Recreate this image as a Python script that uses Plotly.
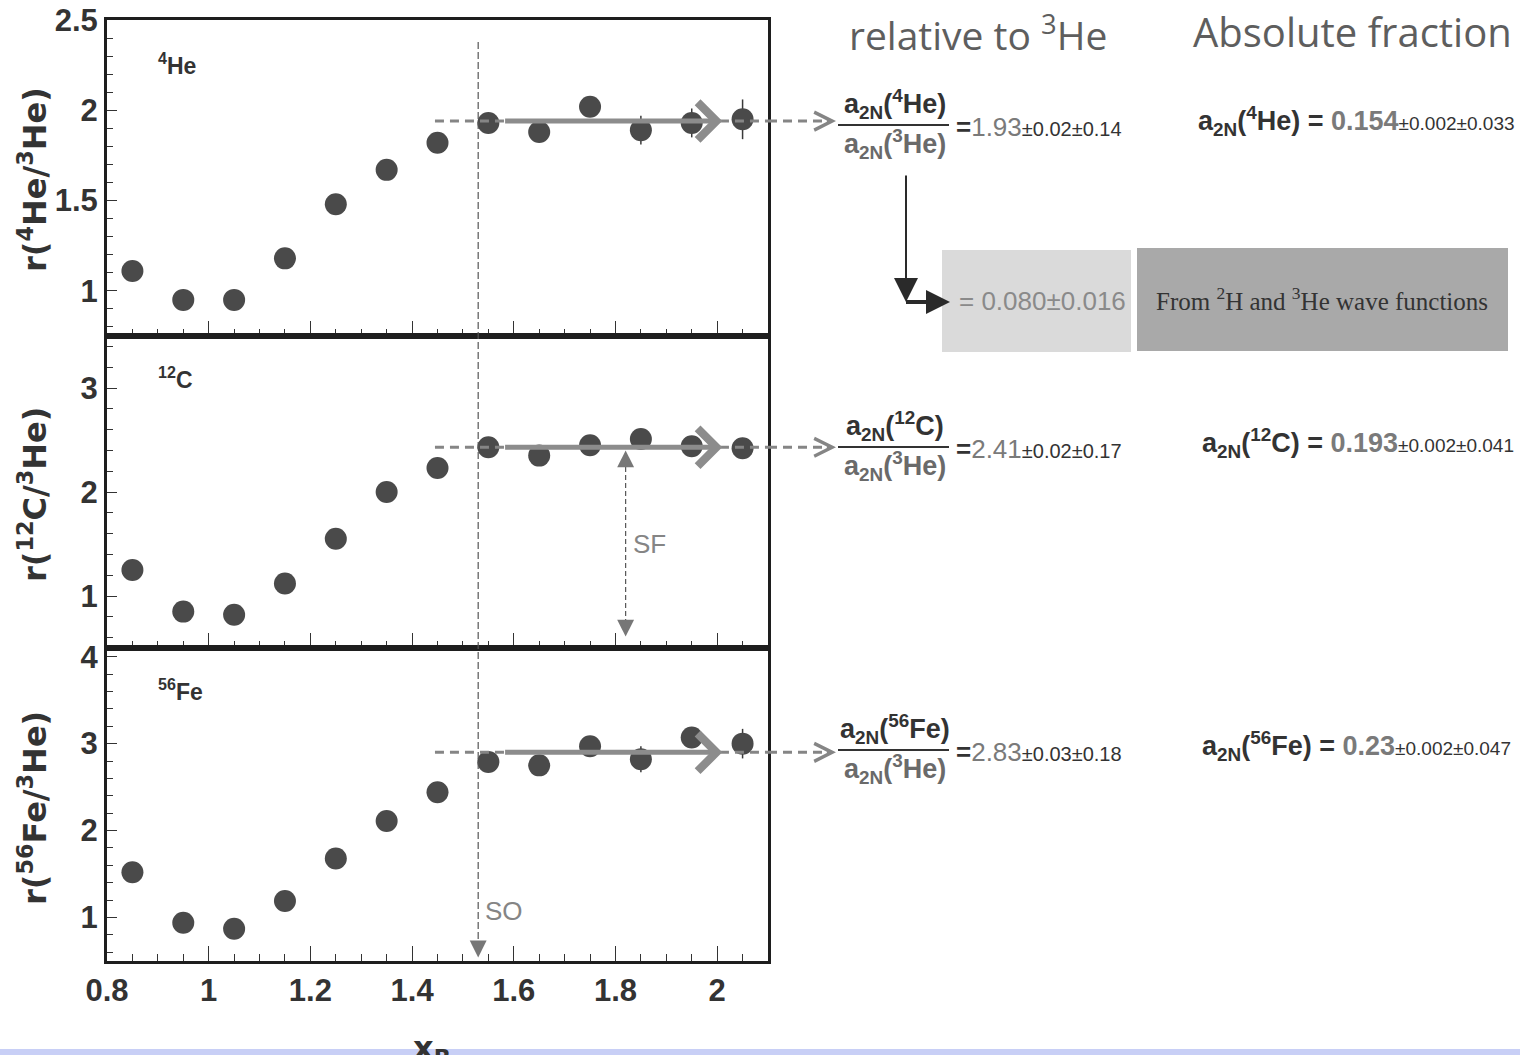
import plotly.graph_objects as go

W, H = 1520, 1055

# ---------------- data ----------------
x_b = [0.85, 0.95, 1.05, 1.15, 1.25, 1.35, 1.45, 1.55, 1.65, 1.75, 1.85, 1.95, 2.05]

r_he4 = [1.11, 0.95, 0.95, 1.18, 1.48, 1.67, 1.82, 1.93, 1.88, 2.02, 1.89, 1.93, 1.95]
err_he4 = [0.01, 0.01, 0.01, 0.01, 0.01, 0.02, 0.02, 0.03, 0.04, 0.05, 0.08, 0.08, 0.11]

r_c12 = [1.25, 0.85, 0.82, 1.12, 1.55, 2.00, 2.23, 2.43, 2.35, 2.45, 2.51, 2.44, 2.42]
err_c12 = [0.01, 0.01, 0.01, 0.01, 0.02, 0.02, 0.03, 0.04, 0.05, 0.05, 0.07, 0.07, 0.10]

r_fe56 = [1.52, 0.94, 0.87, 1.19, 1.68, 2.11, 2.44, 2.79, 2.75, 2.97, 2.82, 3.07, 3.00]
err_fe56 = [0.01, 0.01, 0.01, 0.02, 0.02, 0.03, 0.04, 0.05, 0.06, 0.07, 0.15, 0.08, 0.17]

panel_labels = ["<sup>4</sup>He", "<sup>12</sup>C", "<sup>56</sup>Fe"]
y_titles = ["r(<sup>4</sup>He/<sup>3</sup>He)", "r(<sup>12</sup>C/<sup>3</sup>He)", "r(<sup>56</sup>Fe/<sup>3</sup>He)"]
plateau = [1.94, 2.43, 2.90]          # plateau level drawn in each panel
plateau_start = 1.445                  # dashed plateau line start (x_B)
arrow_from, arrow_to = 1.58, 2.01      # solid arrow along plateau
x_so = 1.53                            # scaling onset
x_sf = 1.82                            # scaling factor arrow position
sf_low, sf_high = 0.61, 2.40

ratio_nuclei = ["<sup>4</sup>He", "<sup>12</sup>C", "<sup>56</sup>Fe"]
ratio_val = ["1.93", "2.41", "2.83"]
ratio_err = ["±0.02±0.14", "±0.02±0.17", "±0.03±0.18"]
abs_val = ["0.154", "0.193", "0.23"]
abs_err = ["±0.002±0.033", "±0.002±0.041", "±0.002±0.047"]
deut_val = "= 0.080±0.016"

# ---------------- styling ----------------
SANS = "Liberation Sans, Arial, Helvetica, sans-serif"
WIDE = "DejaVu Sans, Verdana, sans-serif"
SERIF = "Liberation Serif, Times New Roman, serif"
HAND = "Open Sans, sans-serif"
MARK = "#4a4a4a"
GREY = "#858585"


def P(px, py):
    return px / W, 1 - py / H


# panel pixel boxes
x_left, x_right = 107, 768
panel_px = [(20, 336), (336, 648), (648, 961)]
y_ranges = [[0.75, 2.5], [0.5, 3.5], [0.5, 4.1]]
y_dtick = [0.5, 1, 1]
y_minor = [0.1, 0.2, 0.2]
series = [(r_he4, err_he4), (r_c12, err_c12), (r_fe56, err_fe56)]

fig = go.Figure()
layout = dict(
    width=W, height=H, margin=dict(l=0, r=0, t=0, b=0, pad=0, autoexpand=False),
    paper_bgcolor="white", plot_bgcolor="white", showlegend=False,
)

tickfont = dict(family=SANS, size=31, color="#333", weight="bold")
for i, (ys, es) in enumerate(series):
    k = "" if i == 0 else str(i + 1)
    fig.add_trace(go.Scatter(
        x=x_b, y=ys, mode="markers",
        xaxis="x" + k, yaxis="y" + k,
        marker=dict(size=22, color=MARK, line=dict(width=0)),
        error_y=dict(type="data", array=es, visible=True, color="#3a3a3a", thickness=1.5, width=0),
        cliponaxis=False,
    ))
    top, bot = panel_px[i]
    layout["xaxis" + k] = dict(
        domain=[x_left / W, x_right / W], anchor="y" + k, range=[0.8, 2.1], automargin=False,
        tick0=0.8, dtick=0.2, ticks="inside", ticklen=15, tickwidth=1.2, tickcolor="#333",
        minor=dict(dtick=0.05, tick0=0.8, ticks="inside", ticklen=7, tickwidth=1, tickcolor="#333"),
        showline=True, linewidth=3, linecolor="#1e1e1e", mirror=True,
        showgrid=False, zeroline=False, showticklabels=(i == 2),
        tickfont=tickfont,
    )
    layout["yaxis" + k] = dict(
        domain=[1 - bot / H, 1 - top / H], anchor="x" + k, range=y_ranges[i], automargin=False,
        tick0=1, dtick=y_dtick[i], ticks="inside", ticklen=10, tickwidth=1.2, tickcolor="#333",
        minor=dict(dtick=y_minor[i], ticks="inside", ticklen=6, tickwidth=1, tickcolor="#333"),
        showline=True, linewidth=3, linecolor="#1e1e1e", mirror=True,
        showgrid=False, zeroline=False,
        tickfont=tickfont,
    )

fig.update_layout(**layout)

shapes = []
ann = []

# plateau lines and arrows
frac_px = [125, 447, 750]
for i in range(3):
    k = "" if i == 0 else str(i + 1)
    dash = dict(color=GREY, width=3, dash="9px,6px")
    shapes.append(dict(type="line", xref="x" + k, yref="y" + k, x0=plateau_start, x1=2.1,
                       y0=plateau[i], y1=plateau[i], line=dash, layer="above"))
    shapes.append(dict(type="line", xref="paper", yref="y" + k, x0=x_right / W, x1=826 / W,
                       y0=plateau[i], y1=plateau[i], line=dash, layer="above"))
    # thick grey arrow along plateau
    ann.append(dict(xref="x" + k, yref="y" + k, axref="x" + k, ayref="y" + k,
                    x=arrow_to, y=plateau[i], ax=arrow_from, ay=plateau[i], text="",
                    showarrow=True, arrowhead=4, arrowsize=1.45, arrowwidth=5, arrowcolor="#8c8c8c"))
    # small open arrowhead after the dashed extension
    ann.append(dict(xref="paper", yref="y" + k, x=836 / W, y=plateau[i], ax=-10, ay=0, text="",
                    showarrow=True, arrowhead=5, arrowsize=2.2, arrowwidth=1.6, arrowcolor=GREY))

# SO vertical line across panels
shapes.append(dict(type="line", xref="x", yref="paper", x0=x_so, x1=x_so,
                   y0=P(0, 42)[1], y1=P(0, 945)[1],
                   line=dict(color="#555", width=1.2, dash="7px,3px"), layer="above"))
ann.append(dict(xref="x3", yref="y3", x=x_so, y=0.54, ax=0, ay=-18, text="", showarrow=True,
                arrowhead=2, arrowsize=2.6, arrowwidth=1.3, arrowcolor="#777"))
ann.append(dict(xref="x3", yref="y3", x=x_so + 0.01, y=1.07, text="SO", showarrow=False,
                xanchor="left", font=dict(family=SANS, size=26, color=GREY)))

# SF double arrow
shapes.append(dict(type="line", xref="x2", yref="y2", x0=x_sf, x1=x_sf, y0=sf_low + 0.12, y1=sf_high - 0.14,
                   line=dict(color="#555", width=1.2, dash="5px,3px"), layer="above"))
ann.append(dict(xref="x2", yref="y2", x=x_sf, y=sf_high, ax=0, ay=18, text="", showarrow=True,
                arrowhead=2, arrowsize=2.6, arrowwidth=1.3, arrowcolor="#777"))
ann.append(dict(xref="x2", yref="y2", x=x_sf, y=sf_low, ax=0, ay=-18, text="", showarrow=True,
                arrowhead=2, arrowsize=2.6, arrowwidth=1.3, arrowcolor="#777"))
ann.append(dict(xref="x2", yref="y2", x=x_sf + 0.01, y=1.5, text="SF", showarrow=False,
                xanchor="left", font=dict(family=SANS, size=26, color=GREY)))

# panel labels and y titles
lab_px = [(156, 64), (156, 378), (156, 690)]
title_py = [180, 495, 808]
for i in range(3):
    x, y = P(*lab_px[i])
    ann.append(dict(xref="paper", yref="paper", x=x, y=y, text="<b>%s</b>" % panel_labels[i],
                    showarrow=False, xanchor="left", yanchor="middle",
                    font=dict(family=SANS, size=23, color="#333")))
    x, y = P(33, title_py[i])
    ann.append(dict(xref="paper", yref="paper", x=x, y=y, text="<b>%s</b>" % y_titles[i],
                    showarrow=False, textangle=-90, xanchor="center", yanchor="middle",
                    font=dict(family=WIDE, size=32, color="#333")))

# x title (cut off at page bottom)
x, y = P(432, 1027)
ann.append(dict(xref="paper", yref="paper", x=x, y=y, text="<b>x<sub>B</sub></b>", showarrow=False,
                xanchor="center", yanchor="top", font=dict(family=WIDE, size=32, color="#333")))

# headings
x, y = P(978, 33)
ann.append(dict(xref="paper", yref="paper", x=x, y=y, text="relative to <sup>3</sup>He", showarrow=False,
                xanchor="center", yanchor="middle", font=dict(family=HAND, size=39, color="#5e5e5e")))
x, y = P(1352, 32)
ann.append(dict(xref="paper", yref="paper", x=x, y=y, text="Absolute fraction", showarrow=False,
                xanchor="center", yanchor="middle", font=dict(family=HAND, size=40, color="#5e5e5e")))

# fractions and values
for i in range(3):
    yc = frac_px[i]
    shapes.append(dict(type="line", xref="paper", yref="paper",
                       x0=838 / W, x1=949 / W, y0=P(0, yc)[1], y1=P(0, yc)[1],
                       line=dict(color="#333", width=2)))
    x, y = P(895, yc - 21)
    ann.append(dict(xref="paper", yref="paper", x=x, y=y,
                    text="<b>a<sub>2N</sub>(%s)</b>" % ratio_nuclei[i], showarrow=False,
                    xanchor="center", yanchor="middle", font=dict(family=SANS, size=27, color="#333")))
    x, y = P(895, yc + 19)
    ann.append(dict(xref="paper", yref="paper", x=x, y=y,
                    text="<b>a<sub>2N</sub>(<sup>3</sup>He)</b>", showarrow=False,
                    xanchor="center", yanchor="middle", font=dict(family=SANS, size=27, color="#6a6a6a")))
    x, y = P(954, yc + 2)
    ann.append(dict(xref="paper", yref="paper", x=x, y=y,
                    text="<b>=</b><span style='color:#7a7a7a'>%s</span><span style='font-size:20px'>%s</span>"
                         % (ratio_val[i], ratio_err[i]),
                    showarrow=False, xanchor="left", yanchor="middle",
                    font=dict(family=SANS, size=26, color="#333")))
    x, y = P(1196 if i == 0 else 1200, yc - 4)
    ann.append(dict(xref="paper", yref="paper", x=x, y=y,
                    text="<b>a<sub>2N</sub>(%s) = </b><span style='color:#7a7a7a'><b>%s</b></span>"
                         "<span style='font-size:19px'>%s</span>" % (ratio_nuclei[i], abs_val[i], abs_err[i]),
                    showarrow=False, xanchor="left", yanchor="middle",
                    font=dict(family=SANS, size=27, color="#333")))

# deuteron boxes
x0, y0 = P(942, 250)
x1, y1 = P(1131, 352)
shapes.append(dict(type="rect", xref="paper", yref="paper", x0=x0, y0=y0, x1=x1, y1=y1,
                   fillcolor="#dadada", line=dict(width=0), layer="below"))
x0, y0 = P(1137, 248)
x1, y1 = P(1508, 351)
shapes.append(dict(type="rect", xref="paper", yref="paper", x0=x0, y0=y0, x1=x1, y1=y1,
                   fillcolor="#a9a9a9", line=dict(width=0), layer="below"))
x, y = P(957, 301)
ann.append(dict(xref="paper", yref="paper", x=x, y=y, text=deut_val, showarrow=False,
                xanchor="left", yanchor="middle", font=dict(family=SANS, size=26, color="#8a8a8a")))
x, y = P(1322, 299)
ann.append(dict(xref="paper", yref="paper", x=x, y=y,
                text="From <sup>2</sup>H and <sup>3</sup>He wave functions", showarrow=False,
                xanchor="center", yanchor="middle", font=dict(family=SERIF, size=25, color="#333")))

# L-shaped black arrow
x, y = P(906, 302)
ann.append(dict(xref="paper", yref="paper", x=x, y=y, ax=0, ay=-128, text="", showarrow=True,
                arrowhead=2, arrowsize=2.4, arrowwidth=2, arrowcolor="#2a2a2a"))
xa, ya = P(906, 302)
xb, _ = P(936, 302)
shapes.append(dict(type="line", xref="paper", yref="paper", x0=xa, x1=xb, y0=ya, y1=ya,
                   line=dict(color="#2a2a2a", width=4)))
x, y = P(950, 302)
ann.append(dict(xref="paper", yref="paper", x=x, y=y, ax=-12, ay=0, text="", showarrow=True,
                arrowhead=2, arrowsize=1.6, arrowwidth=3, arrowcolor="#2a2a2a"))

# lavender strip at bottom edge
x0, y0 = P(0, 1049)
x1, y1 = P(W, H)
shapes.append(dict(type="rect", xref="paper", yref="paper", x0=x0, y0=y0, x1=x1, y1=y1,
                   fillcolor="#c8cff6", line=dict(width=0), layer="above"))

fig.update_layout(shapes=shapes, annotations=ann)

fig.write_html("out.html", config={"displayModeBar": False},
               post_script="document.body.style.margin='0';")
